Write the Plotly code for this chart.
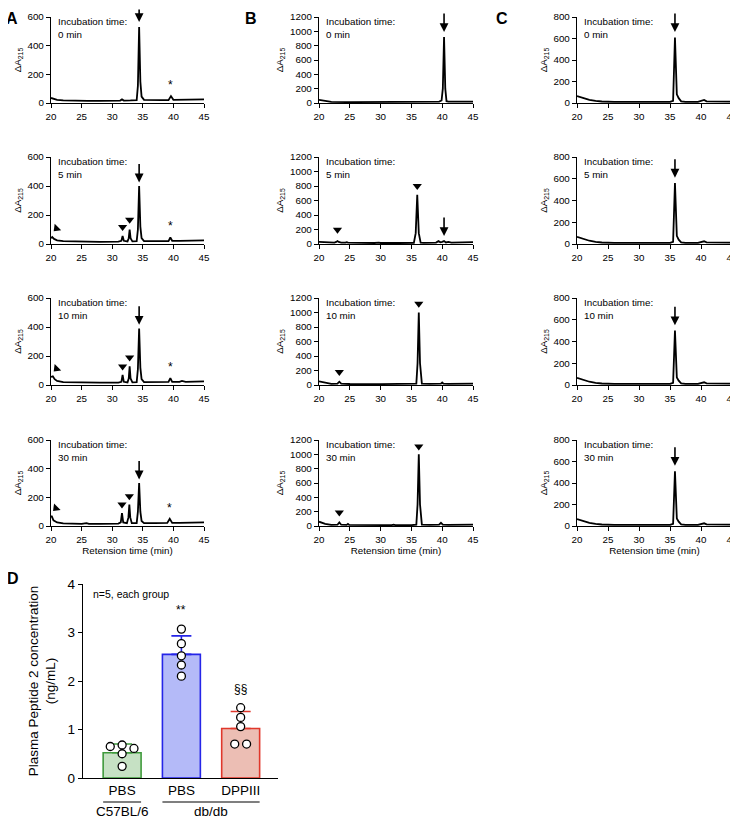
import plotly.graph_objects as go

# the page adds an 8px body margin, so the figure is drawn 8px smaller and offset
PAGE_W, PAGE_H, OFF = 738, 819, 8
W, H = PAGE_W - OFF, PAGE_H - OFF
FONT = "Arial, Liberation Sans, sans-serif"

# ---------------- chromatogram data (retention time, ΔA215) ----------------
A0_t = [20, 20.3, 21, 22, 24, 26, 28, 30, 31.3, 31.6, 31.9, 33, 34.0, 34.2, 34.4, 34.6, 34.8, 35.2, 36, 38, 39.2, 39.6, 40.0, 41, 41.5, 42, 45]
A0_y = [35, 30, 22, 18, 15, 15, 15, 16, 17, 25, 17, 18, 20, 120, 530, 150, 45, 22, 20, 20, 20, 48, 22, 22, 26, 22, 25]
A5_t = [20, 20.2, 20.5, 21, 22, 25, 28, 31, 31.5, 31.7, 31.9, 32.5, 32.7, 32.85, 33.0, 33.3, 34.0, 34.2, 34.4, 34.6, 34.8, 35.2, 37, 39.2, 39.5, 39.8, 41, 43, 45]
A5_y = [40, 48, 35, 25, 20, 15, 15, 17, 22, 55, 22, 18, 40, 100, 40, 18, 20, 100, 400, 120, 40, 20, 20, 20, 45, 22, 22, 24, 25]
A10_t = [20, 20.3, 20.6, 21, 22, 25, 28, 31, 31.5, 31.7, 31.9, 32.5, 32.7, 32.85, 33.0, 33.3, 34.0, 34.2, 34.4, 34.6, 34.8, 35.2, 37, 38.6, 39.2, 39.5, 39.8, 41, 41.4, 42, 45]
A10_y = [55, 60, 40, 28, 20, 16, 16, 17, 22, 70, 22, 18, 45, 128, 45, 18, 20, 110, 390, 120, 40, 20, 20, 20, 22, 48, 22, 22, 28, 22, 25]
A30_t = [20, 20.1, 20.4, 21, 22, 25, 25.8, 26.2, 28, 31, 31.4, 31.6, 31.8, 32.4, 32.65, 32.8, 32.95, 33.2, 34.0, 34.2, 34.4, 34.6, 34.8, 35.2, 37, 39.0, 39.4, 39.8, 41, 45]
A30_y = [60, 70, 40, 25, 18, 15, 20, 15, 15, 17, 25, 90, 25, 20, 60, 150, 60, 20, 20, 100, 300, 100, 35, 20, 20, 22, 50, 22, 22, 25]

B0_t = [20, 20.5, 21, 22, 25, 28, 31.5, 32, 32.5, 35, 37.3, 37.6, 38, 39.5, 39.9, 40.1, 40.3, 40.5, 40.7, 41, 43, 45]
B0_y = [45, 35, 25, 15, 12, 12, 14, 22, 14, 14, 16, 22, 16, 20, 35, 200, 920, 200, 25, 18, 18, 20]
B5_t = [20, 21, 22.5, 22.8, 23.0, 23.2, 23.6, 24.3, 24.5, 24.7, 26, 29, 29.7, 30, 33, 35.4, 35.7, 35.95, 36.2, 36.5, 37, 39, 39.4, 39.7, 40.0, 40.3, 40.6, 41, 41.5, 43, 44, 45]
B5_y = [30, 25, 20, 28, 40, 28, 20, 18, 25, 18, 15, 14, 20, 14, 14, 16, 150, 680, 150, 20, 16, 20, 40, 25, 30, 40, 22, 30, 20, 20, 25, 25]
B10_t = [20, 20.5, 21, 22, 23.0, 23.3, 23.6, 25, 30, 35, 35.8, 36.0, 36.2, 36.4, 36.7, 38, 39.8, 40.0, 40.2, 41, 45]
B10_y = [50, 40, 28, 15, 18, 45, 18, 14, 12, 12, 20, 300, 1000, 300, 20, 15, 20, 35, 20, 15, 18]
B30_t = [20, 20.5, 21, 22, 23.0, 23.3, 23.6, 24.5, 24.7, 24.9, 27, 31.8, 32.1, 32.4, 35, 35.8, 36.0, 36.2, 36.4, 36.7, 38, 39.5, 39.8, 40.1, 41, 45]
B30_y = [60, 45, 30, 15, 18, 50, 18, 15, 30, 15, 12, 12, 20, 12, 12, 20, 300, 1000, 300, 20, 15, 20, 45, 20, 15, 20]

C0_t = [20, 20.5, 21, 22, 23, 24, 26, 30, 35, 35.5, 35.8, 36.1, 36.4, 36.8, 37.5, 39.5, 40.2, 40.5, 40.9, 42, 45]
C0_y = [65, 55, 45, 30, 20, 14, 10, 10, 10, 20, 610, 80, 45, 15, 10, 10, 18, 28, 15, 14, 12]
C5_t = [20, 20.5, 21, 22, 23, 24, 26, 30, 35, 35.5, 35.8, 36.1, 36.4, 36.8, 37.5, 39.5, 40.2, 40.5, 40.9, 42, 45]
C5_y = [65, 55, 45, 30, 20, 14, 10, 10, 10, 20, 560, 75, 40, 15, 10, 10, 16, 25, 15, 14, 12]
C10_t = [20, 20.5, 21, 22, 23, 24, 26, 30, 35, 35.5, 35.8, 36.1, 36.4, 36.8, 37.5, 39.5, 40.2, 40.5, 40.9, 42, 45]
C10_y = [65, 55, 45, 30, 20, 14, 10, 10, 10, 20, 500, 70, 40, 15, 10, 10, 16, 25, 15, 14, 12]
C30_t = [20, 20.5, 21, 22, 23, 24, 26, 30, 30.6, 31, 35, 35.5, 35.8, 36.1, 36.4, 36.8, 37.5, 39.5, 40.2, 40.5, 40.9, 42, 45]
C30_y = [65, 55, 45, 30, 20, 14, 10, 10, 14, 10, 10, 20, 510, 70, 40, 15, 10, 10, 16, 25, 15, 14, 12]

incubation = ["0 min", "5 min", "10 min", "30 min"]
y_max = {"A": 600, "B": 1200, "C": 800}

# markers: (time, ΔA) positions of arrowheads / arrows / asterisks
tri = {
    "A5": [(31.7, 118), (32.85, 168)], "A10": [(31.7, 128), (32.85, 190)], "A30": [(31.6, 150), (32.8, 208)],
    "B5": [(23.0, 195), (35.95, 800)], "B10": [(23.3, 180), (36.2, 1120)], "B30": [(23.3, 190), (36.2, 1110)],
}
tri_rot = {"A5": (20.9, 108), "A10": (20.9, 112), "A30": (20.8, 125)}
arrows = {
    "A0": (34.4, 565), "A5": (34.4, 425), "A10": (34.4, 415), "A30": (34.4, 325),
    "B0": (40.3, 990), "B5": (40.3, 110),
    "C0": (35.8, 660), "C5": (35.8, 610), "C10": (35.8, 550), "C30": (35.8, 560),
}
stars = {"A0": (39.6, 66), "A5": (39.5, 60), "A10": (39.5, 62), "A30": (39.4, 66)}

chrom = {
    "A": [(A0_t, A0_y), (A5_t, A5_y), (A10_t, A10_y), (A30_t, A30_y)],
    "B": [(B0_t, B0_y), (B5_t, B5_y), (B10_t, B10_y), (B30_t, B30_y)],
    "C": [(C0_t, C0_y), (C5_t, C5_y), (C10_t, C10_y), (C30_t, C30_y)],
}
tkeys = ["0", "5", "10", "30"]

# ---------------- panel D data ----------------
D_groups = ["PBS", "PBS", "DPPIII"]
D_strains = ["C57BL/6", "db/db"]
D_means = [0.52, 2.55, 1.02]
D_err = [0.18, 0.38, 0.35]
D_points = [[0.65, 0.68, 0.61, 0.50, 0.24], [3.07, 2.77, 2.52, 2.33, 2.10], [1.45, 1.25, 1.06, 0.70, 0.70]]
D_jitter = [[-0.2, 0, 0.2, 0, 0], [0, 0, 0, 0, 0], [0, 0, 0, -0.1, 0.1]]
D_fill = ["#c6e1c4", "#b4baf8", "#ecbeb4"]
D_edge = ["#3f9a3c", "#2525e8", "#e0372b"]
D_marks = ["", "**", "§§"]

# ---------------- layout helpers (page pixel -> paper fraction) ----------------
def px(x):
    return (x - OFF) / W

def py(y):
    return 1 - (y - OFF) / H

def axname(i):
    return ("x", "y") if i == 1 else (f"x{i}", f"y{i}")

rows_px = [(17, 103), (157, 244), (298, 385), (440, 526)]
cols_px = {"A": (51, 204), "B": (319, 473), "C": (577, 732)}

fig = go.Figure()
layout = dict(
    width=W, height=H, margin=dict(l=0, r=0, t=0, b=0),
    plot_bgcolor="white", paper_bgcolor="white",
    font=dict(family=FONT, color="black", size=10), showlegend=False,
)
annotations = []
shapes = []

SMALL = 9.8
axis_common = dict(showline=True, linecolor="black", linewidth=1.4, ticks="outside", ticklen=4,
                   tickwidth=1.4, tickcolor="black", showgrid=False, zeroline=False, automargin=False,
                   tickfont=dict(size=SMALL, family=FONT, color="black"))

idx = 0
for col in ["A", "B", "C"]:
    for r in range(4):
        idx += 1
        key = col + tkeys[r]
        xn, yn = axname(idx)
        t, y = chrom[col][r]
        fig.add_trace(go.Scatter(x=t, y=y, mode="lines", line=dict(color="black", width=1.8),
                                 xaxis=xn, yaxis=yn, hoverinfo="skip", cliponaxis=False))
        x0, x1 = cols_px[col]
        ytop, ybot = rows_px[r]
        xa = dict(axis_common, domain=[px(x0), px(x1)], anchor=yn, range=[20, 45],
                  tickvals=[20, 25, 30, 35, 40, 45])
        if r == 3:
            xa["title"] = dict(text="Retension time (min)", font=dict(size=SMALL), standoff=2)
        ya = dict(axis_common, domain=[py(ybot), py(ytop)], anchor=xn, range=[0, y_max[col]],
                  dtick=200, title=dict(text="ΔA<sub>215</sub>", font=dict(size=SMALL), standoff=4))
        layout["xaxis" if idx == 1 else f"xaxis{idx}"] = xa
        layout["yaxis" if idx == 1 else f"yaxis{idx}"] = ya

        annotations.append(dict(xref=f"{xn} domain", yref=f"{yn} domain", x=0.03, y=1.04,
                                xanchor="left", yanchor="top", align="left", showarrow=False,
                                text="Incubation time:<br>" + incubation[r],
                                font=dict(size=SMALL)))
        if key in tri:
            fig.add_trace(go.Scatter(x=[p[0] for p in tri[key]], y=[p[1] for p in tri[key]],
                                     mode="markers", xaxis=xn, yaxis=yn, cliponaxis=False,
                                     marker=dict(symbol="triangle-down", size=8, color="black"),
                                     hoverinfo="skip"))
        if key in tri_rot:
            fig.add_trace(go.Scatter(x=[tri_rot[key][0]], y=[tri_rot[key][1]],
                                     mode="markers", xaxis=xn, yaxis=yn, cliponaxis=False,
                                     marker=dict(symbol="triangle-down", size=8, color="black", angle=45),
                                     hoverinfo="skip"))
        if key in arrows:
            ax_, ay_ = arrows[key]
            annotations.append(dict(xref=xn, yref=yn, x=ax_, y=ay_, ax=0, ay=-20, showarrow=True,
                                    arrowhead=2, arrowsize=1.1, arrowwidth=1.6, arrowcolor="black",
                                    text=""))
        if key in stars:
            sx, sy = stars[key]
            annotations.append(dict(xref=xn, yref=yn, x=sx, y=sy, yanchor="bottom", showarrow=False,
                                    text="*", font=dict(size=12)))

# ---------------- panel D ----------------
idx += 1
xn, yn = axname(idx)
for i in range(3):
    fig.add_trace(go.Bar(x=[i], y=[D_means[i]], width=0.64, xaxis=xn, yaxis=yn,
                         marker=dict(color=D_fill[i], line=dict(color=D_edge[i], width=1.6)),
                         error_y=dict(type="data", symmetric=False, array=[D_err[i]], arrayminus=[0],
                                      color=D_edge[i], thickness=1.6, width=10),
                         hoverinfo="skip"))
    fig.add_trace(go.Scatter(x=[i + j for j in D_jitter[i]], y=D_points[i], mode="markers",
                             xaxis=xn, yaxis=yn, cliponaxis=False,
                             marker=dict(symbol="circle", size=8, color="white",
                                         line=dict(color="black", width=1.3)),
                             hoverinfo="skip"))
    if D_marks[i]:
        annotations.append(dict(xref=xn, yref=yn, x=i, y=D_points[i][0] + 0.2, yanchor="bottom",
                                showarrow=False, text=D_marks[i], font=dict(size=12)))

layout[f"xaxis{idx}"] = dict(axis_common, domain=[px(83), px(278)], anchor=yn, range=[-0.66, 2.63],
                             tickvals=[0, 1, 2], ticktext=D_groups, ticks="",
                             tickfont=dict(size=13.5, family=FONT, color="black"))
layout[f"yaxis{idx}"] = dict(axis_common, domain=[py(778), py(584)], anchor=xn, range=[0, 4],
                             dtick=1, tickfont=dict(size=13.5, family=FONT, color="black"),
                             title=dict(text="Plasma Peptide 2 concentration<br>(ng/mL)",
                                        font=dict(size=13.5), standoff=8))
annotations.append(dict(xref=f"{xn} domain", yref=f"{yn} domain", x=0.04, y=0.99, xanchor="left",
                        yanchor="top", showarrow=False, text="n=5, each group", font=dict(size=10.5)))
# group labels under the category labels
shapes.append(dict(type="line", xref=xn, yref="paper", x0=-0.32, x1=0.32, y0=py(802), y1=py(802),
                   line=dict(color="black", width=1.2)))
shapes.append(dict(type="line", xref=xn, yref="paper", x0=0.68, x1=2.32, y0=py(802), y1=py(802),
                   line=dict(color="black", width=1.2)))
annotations.append(dict(xref=xn, yref="paper", x=0, y=py(811), xanchor="center", yanchor="middle",
                        showarrow=False, text=D_strains[0], font=dict(size=13.5)))
annotations.append(dict(xref=xn, yref="paper", x=1.5, y=py(811), xanchor="center", yanchor="middle",
                        showarrow=False, text=D_strains[1], font=dict(size=13.5)))

# panel letters
for letter, (lx, ly) in {"A": (4, 18), "B": (243, 18), "C": (494, 18), "D": (5, 578)}.items():
    annotations.append(dict(xref="paper", yref="paper", x=px(lx), y=py(ly), xanchor="left",
                            yanchor="middle", showarrow=False, text=f"<b>{letter}</b>",
                            font=dict(size=16)))

layout["annotations"] = annotations
layout["shapes"] = shapes
fig.update_layout(**layout)
fig.write_html("out.html")
